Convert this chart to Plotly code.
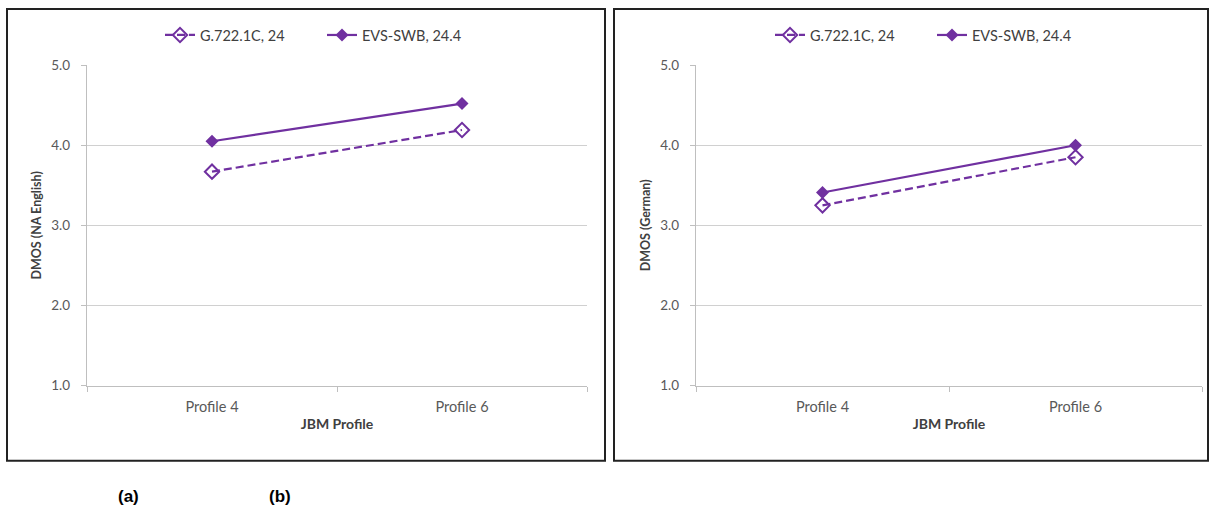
import plotly.graph_objects as go

W, H = 1213, 510

categories = ["Profile 4", "Profile 6"]
g722_na = [3.67, 4.19]
evs_na = [4.05, 4.52]
g722_de = [3.25, 3.85]
evs_de = [3.41, 4.00]
series_names = ["G.722.1C, 24", "EVS-SWB, 24.4"]
y_ticks = [1.0, 2.0, 3.0, 4.0, 5.0]

PURPLE = "#7030A0"
FONT = "Lato"

# the captured page shows the figure slightly squeezed vertically:
# image_y ~= 8 + 0.967 * figure_y ; map reference pixel rows back to figure rows
def px(x):
    return x / W

def py(y):
    fy = (y - 8) / 0.967
    return 1 - fy / H

fig = go.Figure()

for (g, e, xa, ya, lg) in [(g722_na, evs_na, "x", "y", "legend"),
                           (g722_de, evs_de, "x2", "y2", "legend2")]:
    fig.add_trace(go.Scatter(
        x=categories, y=g, name=series_names[0], xaxis=xa, yaxis=ya, legend=lg,
        mode="lines+markers",
        line=dict(color=PURPLE, width=2.2, dash="8px,4px"),
        marker=dict(symbol="diamond-open", size=11, color=PURPLE, line=dict(width=2, color=PURPLE)),
    ))
    fig.add_trace(go.Scatter(
        x=categories, y=e, name=series_names[1], xaxis=xa, yaxis=ya, legend=lg,
        mode="lines+markers",
        line=dict(color=PURPLE, width=2.2),
        marker=dict(symbol="diamond", size=10, color=PURPLE),
    ))

ydom = [py(385), py(65)]
common_x = dict(
    type="category", tickson="boundaries", ticks="outside", ticklen=5,
    tickcolor="#BFBFBF", showline=True, linecolor="#BFBFBF", linewidth=1.3,
    showgrid=False, tickfont=dict(family=FONT, size=14.5, color="#595959"),
    ticklabelstandoff=8,
    title=dict(text="<b>JBM Profile</b>", font=dict(family=FONT, size=14, color="#404040"), standoff=5),
    range=[-0.5, 1.5], fixedrange=True,
)
common_y = dict(
    range=[1, 5], tickvals=y_ticks, ticktext=[f"{v:.1f}" for v in y_ticks],
    ticks="outside", ticklen=5, tickcolor="#BFBFBF", showline=True, linecolor="#BFBFBF",
    linewidth=1.3, showgrid=True, gridcolor="#D0D0D0", gridwidth=1.3, zeroline=False,
    tickfont=dict(family=FONT, size=13.5, color="#595959"), domain=ydom,
    ticklabelstandoff=8,
)

legend_font = dict(family=FONT, size=14.5, color="#404040")

fig.update_layout(
    width=W, height=H, margin=dict(l=0, r=0, t=0, b=0),
    paper_bgcolor="white", plot_bgcolor="white",
    xaxis=dict(domain=[px(87), px(587)], anchor="y", **common_x),
    yaxis=dict(anchor="x", title=dict(text="<b>DMOS (NA English)</b>", font=dict(family=FONT, size=12.5, color="#404040"), standoff=6), **common_y),
    xaxis2=dict(domain=[px(696), px(1202)], anchor="y2", **common_x),
    yaxis2=dict(anchor="x2", title=dict(text="<b>DMOS (German)</b>", font=dict(family=FONT, size=12.5, color="#404040"), standoff=6), **common_y),
    legend=dict(orientation="h", x=px(322), xanchor="center", y=py(35), yanchor="middle",
                font=legend_font, bgcolor="rgba(0,0,0,0)", entrywidth=117),
    legend2=dict(orientation="h", x=px(932), xanchor="center", y=py(35), yanchor="middle",
                 font=legend_font, bgcolor="rgba(0,0,0,0)", entrywidth=117),
    showlegend=True,
    shapes=[
        dict(type="rect", xref="paper", yref="paper", x0=px(7), x1=px(605), y0=py(460), y1=py(9),
             line=dict(color="#222222", width=2)),
        dict(type="rect", xref="paper", yref="paper", x0=px(614), x1=px(1208), y0=py(460), y1=py(9),
             line=dict(color="#222222", width=2)),
    ],
    annotations=[
        dict(text="<b>(a)</b>", xref="paper", yref="paper", x=px(128), y=py(496), showarrow=False,
             xanchor="center", yanchor="middle",
             font=dict(family="Liberation Sans", size=17, color="black")),
        dict(text="<b>(b)</b>", xref="paper", yref="paper", x=px(280), y=py(496), showarrow=False,
             xanchor="center", yanchor="middle",
             font=dict(family="Liberation Sans", size=17, color="black")),
    ],
)

fig.write_html("out.html", config={"displayModeBar": False},
               post_script="document.body.style.margin='0px';document.body.style.overflow='hidden';")
